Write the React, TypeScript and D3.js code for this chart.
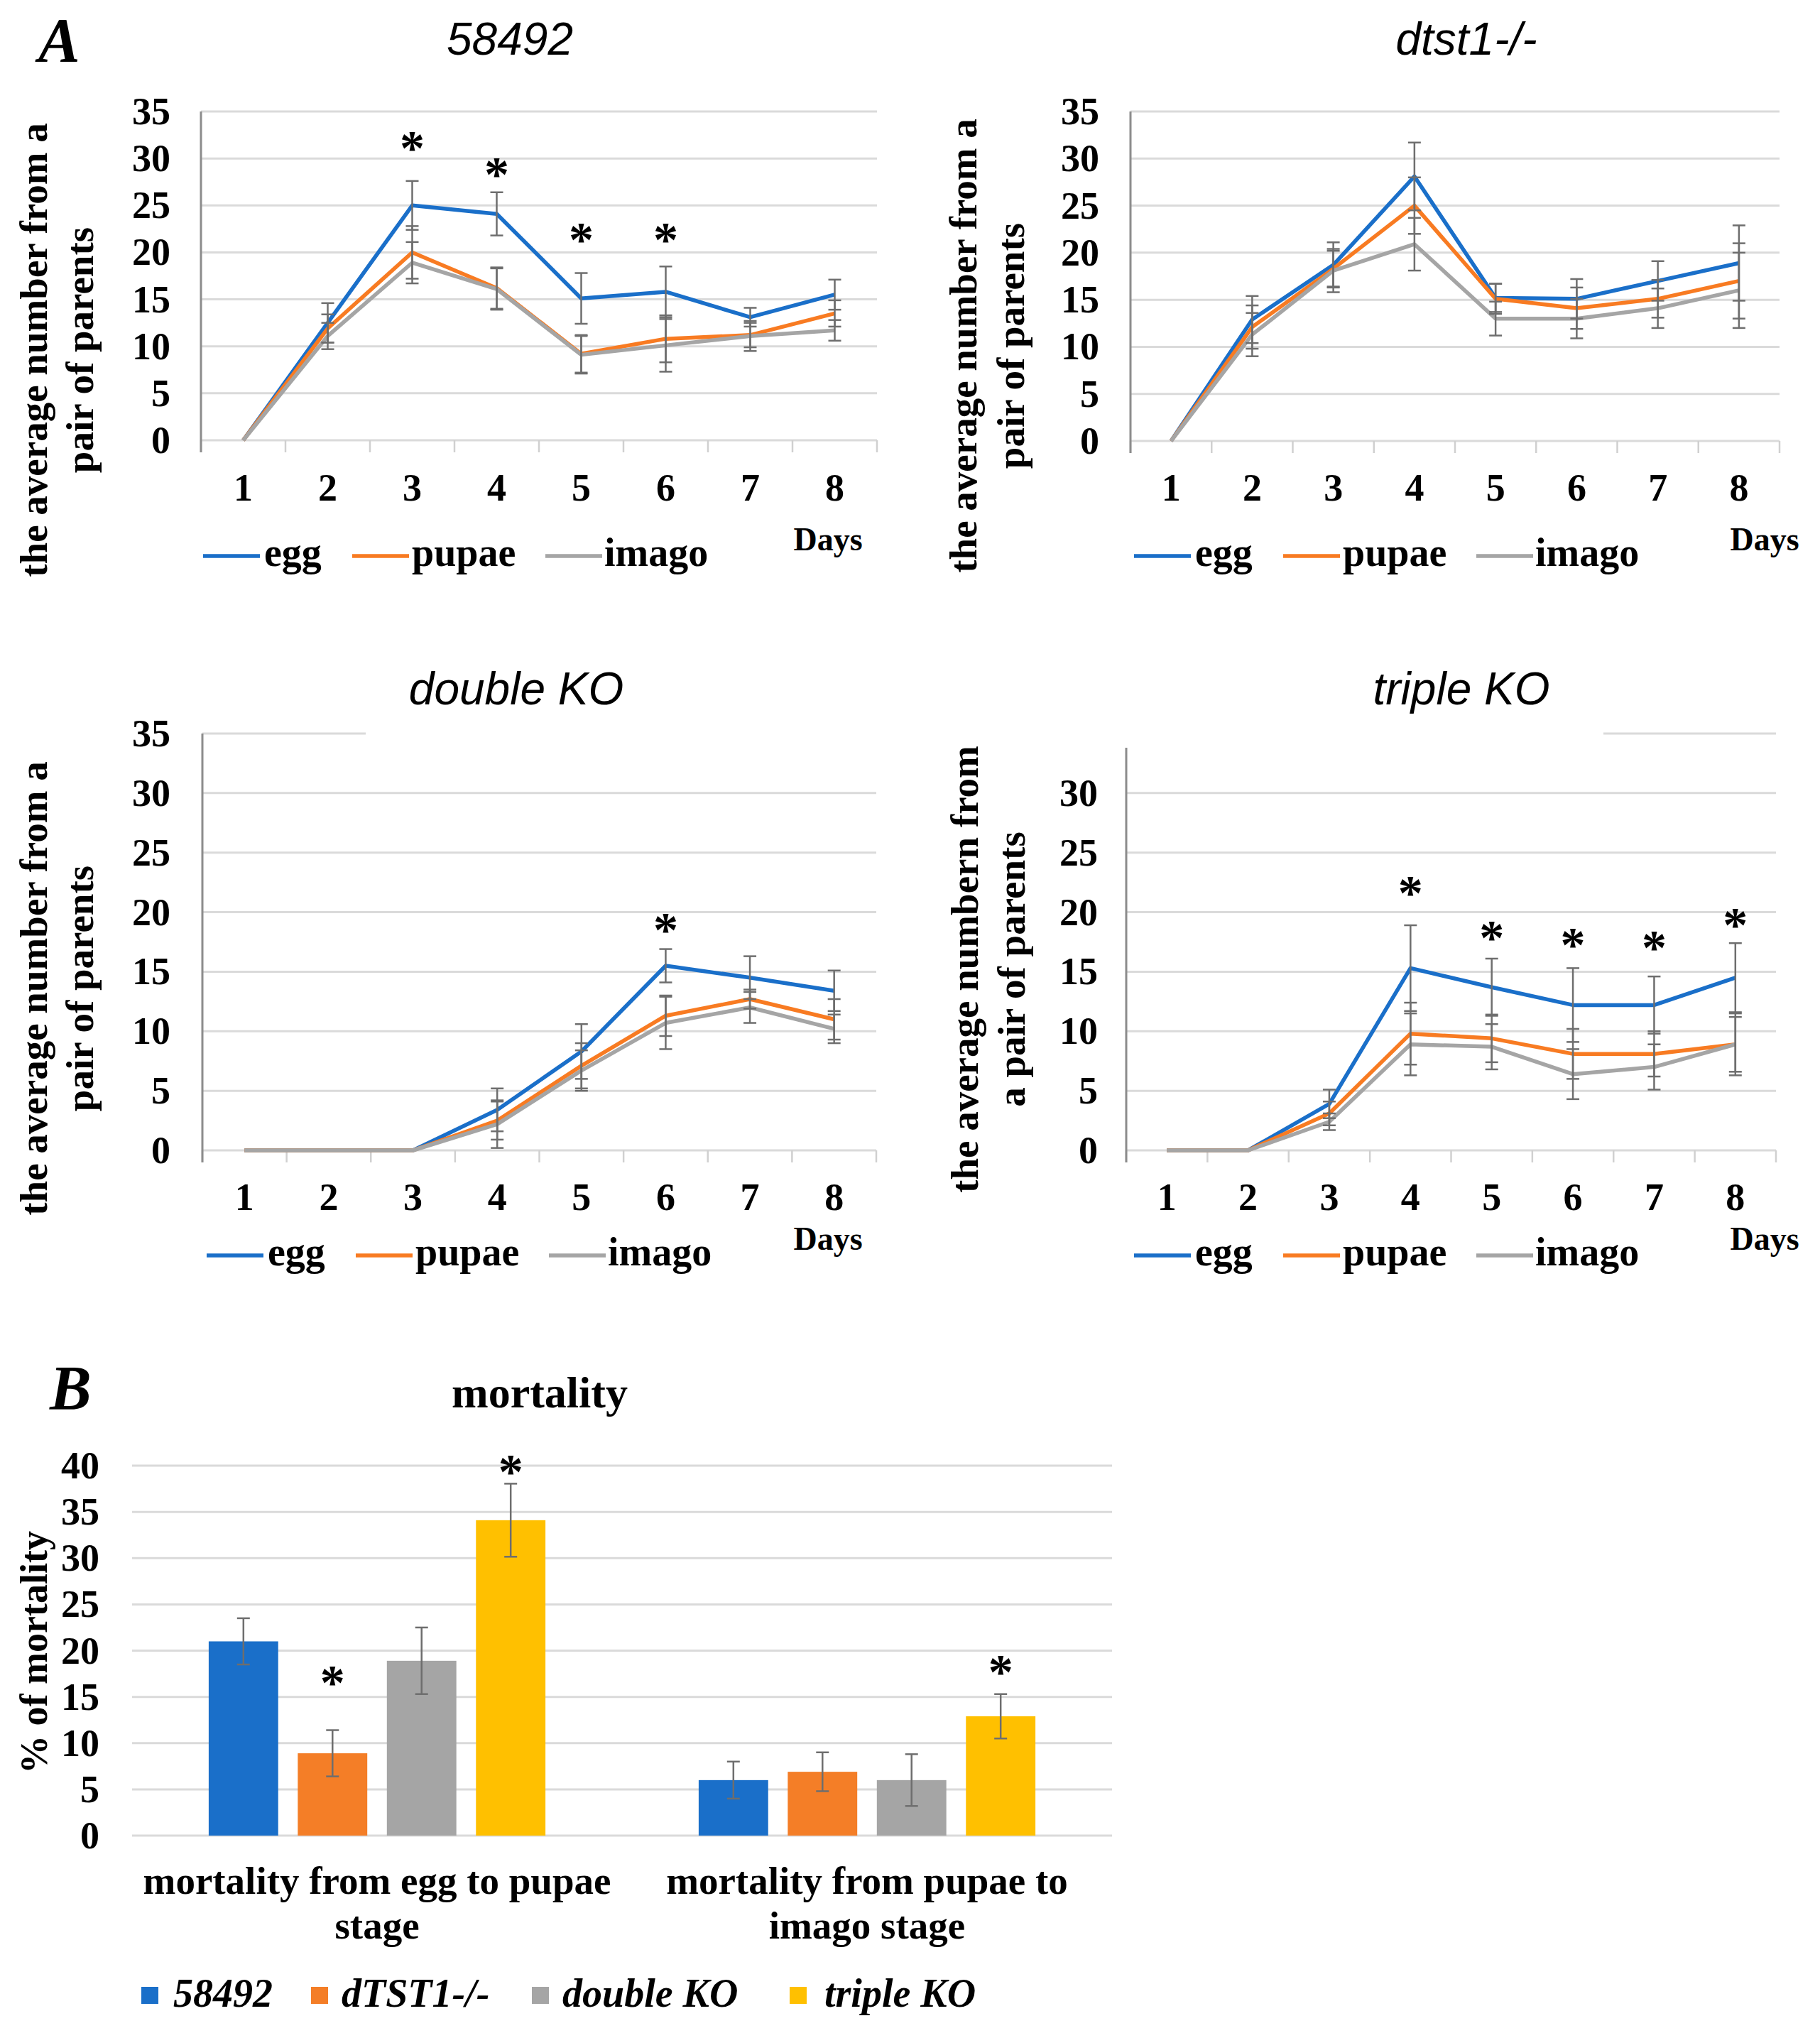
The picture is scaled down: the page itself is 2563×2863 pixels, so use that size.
import React from 'react';
import * as d3 from 'd3';

const SERIF = "'Liberation Serif','Times New Roman',Times,serif";
const SANS = "'Liberation Sans',Arial,Helvetica,sans-serif";

// ---------- data ----------
const dayLabels = ['1', '2', '3', '4', '5', '6', '7', '8'];
const stageNames = ['egg', 'pupae', 'imago'];
const stageColors = ['#1a6fc9', '#f87b22', '#a5a5a5'];
const lineTicks = [0, 5, 10, 15, 20, 25, 30, 35];

// 58492
const wtEgg = [0, 12.5, 25, 24.1, 15.1, 15.8, 13.1, 15.5];
const wtEggErr = [0, 2.1, 2.6, 2.3, 2.7, 2.7, 1.0, 1.6];
const wtPupae = [0, 11.9, 20, 16.2, 9.2, 10.8, 11.2, 13.5];
const wtPupaeErr = [0, 1.5, 2.8, 2.2, 2.0, 2.5, 1.3, 1.4];
const wtImago = [0, 11.1, 18.9, 16.1, 9.1, 10.1, 11.1, 11.7];
const wtImagoErr = [0, 1.4, 2.2, 2.2, 2.0, 2.8, 1.6, 1.1];
const wtStarDays = ['3', '4', '5', '6'];
const wtStarY = [31.8, 29.0, 22.1, 22.1];

// dtst1-/-
const d1Egg = [0, 12.9, 18.7, 28.1, 15.2, 15.1, 17.0, 18.9];
const d1EggErr = [0, 2.5, 2.4, 3.6, 1.5, 2.1, 2.1, 4.0];
const d1Pupae = [0, 12.1, 18.3, 25.0, 15.1, 14.1, 15.1, 17.0];
const d1PupaeErr = [0, 2.3, 1.9, 3.0, 1.6, 2.2, 2.0, 4.0];
const d1Imago = [0, 11.3, 18.1, 20.9, 13.0, 13.0, 14.1, 16.0];
const d1ImagoErr = [0, 2.3, 2.3, 2.8, 1.8, 2.1, 2.1, 4.0];
const d1StarDays: string[] = [];
const d1StarY: number[] = [];

// double KO
const dkEgg = [0, 0, 0, 3.4, 8.3, 15.5, 14.5, 13.4];
const dkEggErr = [0, 0, 0, 1.8, 2.3, 1.4, 1.8, 1.7];
const dkPupae = [0, 0, 0, 2.5, 7.1, 11.3, 12.7, 11.0];
const dkPupaeErr = [0, 0, 0, 1.6, 1.9, 1.7, 0.8, 1.7];
const dkImago = [0, 0, 0, 2.2, 6.7, 10.7, 12.0, 10.2];
const dkImagoErr = [0, 0, 0, 2.0, 1.7, 2.2, 1.3, 1.2];
const dkStarDays = ['6'];
const dkStarY = [19.1];

// triple KO
const tkEgg = [0, 0, 3.9, 15.3, 13.7, 12.2, 12.2, 14.5];
const tkEggErr = [0, 0, 1.2, 3.6, 2.4, 3.1, 2.4, 2.9];
const tkPupae = [0, 0, 3.1, 9.8, 9.4, 8.1, 8.1, 8.9];
const tkPupaeErr = [0, 0, 1.0, 2.6, 2.0, 2.1, 1.9, 2.6];
const tkImago = [0, 0, 2.4, 8.9, 8.7, 6.4, 7.0, 8.9];
const tkImagoErr = [0, 0, 0.7, 2.6, 1.9, 2.1, 1.9, 2.3];
const tkStarDays = ['4', '5', '6', '7', '8'];
const tkStarY = [22.2, 18.4, 17.8, 17.6, 19.5];

// mortality
const mortCategories = ['mortality from egg to pupae stage', 'mortality from pupae to imago stage'];
const mortCategoryLines = [['mortality from egg to pupae', 'stage'], ['mortality from pupae to', 'imago stage']];
const strains = ['58492', 'dTST1-/-', 'double KO', 'triple KO'];
const strainColors = ['#1a6fc9', '#f47e27', '#a5a5a5', '#ffc000'];
const mortEggPupae = [21, 8.9, 18.9, 34.1];
const mortEggPupaeErr = [2.5, 2.5, 3.6, 3.95];
const mortPupaeImago = [6.0, 6.9, 6.0, 12.9];
const mortPupaeImagoErr = [2.0, 2.1, 2.8, 2.4];
const mortStarCat = [0, 0, 1];
const mortStarStrain = [1, 3, 3];
const mortStarY = [17.3, 40.1, 18.4];
const mortTicks = [0, 5, 10, 15, 20, 25, 30, 35, 40];

// ---------- styles ----------
const GRID = '#dadada';
const ERR = '#6e6e6e';
const AXIS = '#8c8c8c';

type Panel = {
  x0: number; x1: number; y0: number; y35: number;
  title: string; titleX: number; titleBase: number;
  box?: { x: number; y: number; w: number; h: number };
  yLab: string[]; yLabX: number[]; yLabCY: number;
  tickRight: number;
  xLabBase: number; daysX: number; daysBase: number;
  legX0: number; legY: number; legBase: number;
  series: number[][]; errs: number[][];
  starDays: string[]; starY: number[];
};

const panels: Panel[] = [
  {
    x0: 283, x1: 1235, y0: 620, y35: 157,
    title: '58492', titleX: 718, titleBase: 77,
    yLab: ['the average number from a', 'pair of parents'], yLabX: [66, 131], yLabCY: 493,
    tickRight: 240, xLabBase: 705, daysX: 1166, daysBase: 775,
    legX0: 285, legY: 783, legBase: 797,
    series: [wtEgg, wtPupae, wtImago], errs: [wtEggErr, wtPupaeErr, wtImagoErr],
    starDays: wtStarDays, starY: wtStarY,
  },
  {
    x0: 1592, x1: 2506, y0: 621, y35: 157,
    title: 'dtst1-/-', titleX: 2065, titleBase: 77,
    yLab: ['the average number from a', 'pair of parents'], yLabX: [1375, 1442], yLabCY: 487,
    tickRight: 1548, xLabBase: 705, daysX: 2485, daysBase: 775,
    legX0: 1596, legY: 783, legBase: 797,
    series: [d1Egg, d1Pupae, d1Imago], errs: [d1EggErr, d1PupaeErr, d1ImagoErr],
    starDays: d1StarDays, starY: d1StarY,
  },
  {
    x0: 285, x1: 1234, y0: 1620, y35: 1033,
    title: 'double KO', titleX: 727, titleBase: 992,
    box: { x: 515, y: 925, w: 750, h: 114 },
    yLab: ['the average number from a', 'pair of parents'], yLabX: [66, 131], yLabCY: 1392,
    tickRight: 240, xLabBase: 1704, daysX: 1166, daysBase: 1760,
    legX0: 290, legY: 1768, legBase: 1782,
    series: [dkEgg, dkPupae, dkImago], errs: [dkEggErr, dkPupaeErr, dkImagoErr],
    starDays: dkStarDays, starY: dkStarY,
  },
  {
    x0: 1586, x1: 2501, y0: 1620, y35: 1033,
    title: 'triple KO', titleX: 2058, titleBase: 992,
    box: { x: 1465, y: 925, w: 793, h: 128 },
    yLab: ['the average numbern from', 'a pair of parents'], yLabX: [1377, 1443], yLabCY: 1365,
    tickRight: 1546, xLabBase: 1704, daysX: 2485, daysBase: 1760,
    legX0: 1596, legY: 1768, legBase: 1782,
    series: [tkEgg, tkPupae, tkImago], errs: [tkEggErr, tkPupaeErr, tkImagoErr],
    starDays: tkStarDays, starY: tkStarY,
  },
];

const legendOffsets = [
  { l1: 1, l2: 81, t: 87 },
  { l1: 211, l2: 291, t: 295 },
  { l1: 483, l2: 563, t: 566 },
];

function Star({ x, cy, size }: { x: number; cy: number; size: number }) {
  return (
    <text x={x} y={cy + size * 0.47} textAnchor="middle" fontFamily={SERIF} fontWeight="bold" fontSize={size} fill="#000">*</text>
  );
}

function LinePanel({ p }: { p: Panel }) {
  const x = d3.scaleBand<string>().domain(dayLabels).range([p.x0, p.x1]).padding(0);
  const y = d3.scaleLinear().domain([0, 35]).range([p.y0, p.y35]);
  const cx = (d: string) => (x(d) as number) + x.bandwidth() / 2;
  const line = d3.line<number>().x((_, i) => cx(dayLabels[i])).y((v) => y(v));
  const bounds = d3.range(dayLabels.length + 1).map((i) => p.x0 + i * x.bandwidth());
  const cap = 9;
  return (
    <g>
      {lineTicks.map((t) => (
        <line key={'g' + t} x1={p.x0} x2={p.x1} y1={y(t)} y2={y(t)} stroke={GRID} strokeWidth={3} />
      ))}
      {bounds.map((bx, i) => (
        <line key={'b' + i} x1={bx} x2={bx} y1={p.y0} y2={p.y0 + 17} stroke="#d0d0d0" strokeWidth={2.5} />
      ))}
      <line x1={p.x0} x2={p.x0} y1={y(35)} y2={p.y0 + 17} stroke={AXIS} strokeWidth={3} />
      {lineTicks.map((t) => (
        <text key={'t' + t} x={p.tickRight} y={y(t) + 18} textAnchor="end" fontFamily={SERIF} fontWeight="bold" fontSize={54} fill="#000">{t}</text>
      ))}
      {p.box && <rect x={p.box.x} y={p.box.y} width={p.box.w} height={p.box.h} fill="#fff" />}
      <text x={p.titleX} y={p.titleBase} textAnchor="middle" fontFamily={SANS} fontStyle="italic" fontSize={64} fill="#000">{p.title}</text>
      {p.yLab.map((s, i) => (
        <text key={'yl' + i} transform={`translate(${p.yLabX[i]},${p.yLabCY}) rotate(-90)`} textAnchor="middle" fontFamily={SERIF} fontWeight="bold" fontSize={55} fill="#000">{s}</text>
      ))}
      {dayLabels.map((d) => (
        <text key={'x' + d} x={cx(d)} y={p.xLabBase} textAnchor="middle" fontFamily={SERIF} fontWeight="bold" fontSize={54} fill="#000">{d}</text>
      ))}
      <text x={p.daysX} y={p.daysBase} textAnchor="middle" fontFamily={SERIF} fontWeight="bold" fontSize={46} fill="#000">Days</text>
      {p.series.map((s, i) => (
        <path key={'s' + i} d={line(s) || ''} fill="none" stroke={stageColors[i]} strokeWidth={5.5} strokeLinejoin="round" />
      ))}
      {p.series.map((s, i) =>
        s.map((v, j) => {
          const e = p.errs[i][j];
          if (!e) return null;
          const xx = cx(dayLabels[j]);
          return (
            <g key={`e${i}-${j}`} stroke={ERR} strokeWidth={2.5}>
              <line x1={xx} x2={xx} y1={y(v + e)} y2={y(v - e)} />
              <line x1={xx - cap} x2={xx + cap} y1={y(v + e)} y2={y(v + e)} />
              <line x1={xx - cap} x2={xx + cap} y1={y(v - e)} y2={y(v - e)} />
            </g>
          );
        })
      )}
      {p.starDays.map((d, i) => (
        <Star key={'st' + i} x={cx(d)} cy={y(p.starY[i])} size={70} />
      ))}
      {stageNames.map((n, i) => (
        <g key={'lg' + n}>
          <line x1={p.legX0 + legendOffsets[i].l1} x2={p.legX0 + legendOffsets[i].l2} y1={p.legY} y2={p.legY} stroke={stageColors[i]} strokeWidth={5.5} />
          <text x={p.legX0 + legendOffsets[i].t} y={p.legBase} fontFamily={SERIF} fontWeight="bold" fontSize={56} fill="#000">{n}</text>
        </g>
      ))}
    </g>
  );
}

function MortalityPanel() {
  const L = 186, R = 1566, Y0 = 2585, Y40 = 2064;
  const x0 = d3.scaleBand<string>().domain(mortCategories).range([L, R]).padding(0);
  const x1 = d3.scaleBand<string>().domain(strains).range([0, x0.bandwidth()]).paddingInner(0.22).paddingOuter(0.86);
  const y = d3.scaleLinear().domain([0, 40]).range([Y0, Y40]);
  const vals = [mortEggPupae, mortPupaeImago];
  const errs = [mortEggPupaeErr, mortPupaeImagoErr];
  const cap = 9;
  const legSq = [199, 438, 749, 1112];
  const legTx = [244, 481, 792, 1161];
  return (
    <g>
      {mortTicks.map((t) => (
        <line key={'g' + t} x1={L} x2={R} y1={y(t)} y2={y(t)} stroke={GRID} strokeWidth={3} />
      ))}
      {mortTicks.map((t) => (
        <text key={'t' + t} x={140} y={y(t) + 18} textAnchor="end" fontFamily={SERIF} fontWeight="bold" fontSize={54} fill="#000">{t}</text>
      ))}
      <text x={70} y={1984} fontFamily={SERIF} fontWeight="bold" fontStyle="italic" fontSize={88} fill="#000">B</text>
      <text x={760} y={1982} textAnchor="middle" fontFamily={SERIF} fontWeight="bold" fontSize={62} fill="#000">mortality</text>
      <text transform={`translate(66,2327) rotate(-90)`} textAnchor="middle" fontFamily={SERIF} fontWeight="bold" fontSize={54} fill="#000">% of mortality</text>
      {mortCategories.map((c, ci) => (
        <g key={c}>
          {strains.map((s, si) => {
            const bx = (x0(c) as number) + (x1(s) as number);
            const v = vals[ci][si];
            const e = errs[ci][si];
            const mx = bx + x1.bandwidth() / 2;
            return (
              <g key={s}>
                <rect x={bx} y={y(v)} width={x1.bandwidth()} height={Y0 - y(v)} fill={strainColors[si]} />
                <g stroke={ERR} strokeWidth={2.5}>
                  <line x1={mx} x2={mx} y1={y(v + e)} y2={y(v - e)} />
                  <line x1={mx - cap} x2={mx + cap} y1={y(v + e)} y2={y(v + e)} />
                  <line x1={mx - cap} x2={mx + cap} y1={y(v - e)} y2={y(v - e)} />
                </g>
              </g>
            );
          })}
          {mortCategoryLines[ci].map((ln, li) => (
            <text key={li} x={(x0(c) as number) + x0.bandwidth() / 2} y={2667 + li * 63} textAnchor="middle" fontFamily={SERIF} fontWeight="bold" fontSize={55} fill="#000">{ln}</text>
          ))}
        </g>
      ))}
      {mortStarCat.map((ci, i) => {
        const c = mortCategories[ci];
        const s = strains[mortStarStrain[i]];
        const mx = (x0(c) as number) + (x1(s) as number) + x1.bandwidth() / 2;
        return <Star key={'ms' + i} x={mx} cy={y(mortStarY[i])} size={70} />;
      })}
      {strains.map((s, i) => (
        <g key={'lg' + s}>
          <rect x={legSq[i]} y={2798} width={24} height={24} fill={strainColors[i]} />
          <text x={legTx[i]} y={2826} fontFamily={SERIF} fontWeight="bold" fontStyle="italic" fontSize={56} fill="#000">{s}</text>
        </g>
      ))}
    </g>
  );
}

export default function App() {
  return (
    <svg width={2563} height={2863} viewBox="0 0 2563 2863" style={{ position: 'absolute', left: 0, top: 0, background: '#fff' }}>
      <rect x={0} y={0} width={2563} height={2863} fill="#fff" />
      <text x={54} y={86} fontFamily={SERIF} fontWeight="bold" fontStyle="italic" fontSize={88} fill="#000">A</text>
      {panels.map((p, i) => (
        <LinePanel key={i} p={p} />
      ))}
      <MortalityPanel />
    </svg>
  );
}
